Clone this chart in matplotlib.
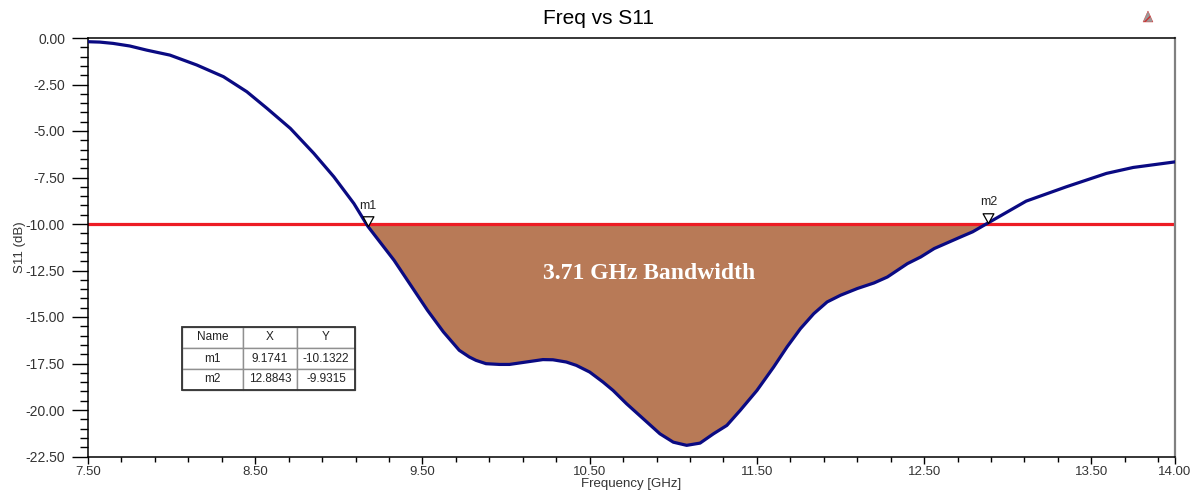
import matplotlib.pyplot as plt
from matplotlib.patches import Polygon, Rectangle
from matplotlib.path import Path
import numpy as np

# S11 trace
freq = [7.50, 7.57, 7.65, 7.75, 7.85, 7.99, 8.15, 8.31, 8.45, 8.57, 8.71, 8.85,
        8.97, 9.09, 9.1741, 9.33, 9.53, 9.625, 9.72, 9.78, 9.82, 9.88, 9.96,
        10.02, 10.12, 10.22, 10.28, 10.36, 10.42, 10.50, 10.58, 10.64, 10.72,
        10.82, 10.92, 11.00, 11.08, 11.16, 11.24, 11.32, 11.40, 11.50, 11.60,
        11.68, 11.76, 11.84, 11.92, 12.00, 12.10, 12.20, 12.28, 12.40, 12.48,
        12.56, 12.72, 12.79, 12.8843, 13.11, 13.35, 13.59, 13.75, 14.00]
s11 = [-0.20, -0.22, -0.29, -0.43, -0.65, -0.92, -1.45, -2.08, -2.89, -3.78,
       -4.86, -6.20, -7.46, -8.90, -10.1322, -11.95, -14.64, -15.80, -16.79,
       -17.15, -17.33, -17.51, -17.55, -17.55, -17.42, -17.29, -17.30, -17.42,
       -17.60, -17.96, -18.50, -18.95, -19.66, -20.47, -21.28, -21.73, -21.90,
       -21.78, -21.28, -20.83, -20.02, -18.95, -17.69, -16.61, -15.63, -14.82,
       -14.19, -13.83, -13.47, -13.17, -12.85, -12.13, -11.77, -11.32, -10.69,
       -10.42, -9.9315, -8.77, -8.00, -7.28, -6.96, -6.66]

marker_names = ["m1", "m2"]
marker_x = [9.1741, 12.8843]
marker_y = [-10.1322, -9.9315]

threshold = -10.0
bandwidth_label = "3.71 GHz Bandwidth"

x_ticks = [7.5, 8.5, 9.5, 10.5, 11.5, 12.5, 13.5, 14.0]
y_ticks = [0.0, -2.5, -5.0, -7.5, -10.0, -12.5, -15.0, -17.5, -20.0, -22.5]

plt.rcParams['font.family'] = ['Liberation Sans', 'DejaVu Sans']

fig = plt.figure(figsize=(11.97, 4.93), dpi=100)
ax = fig.add_axes([88 / 1197, 1 - 456.5 / 493, 1087 / 1197, 418.5 / 493])

f = np.array(freq)
s = np.array(s11)

# shaded band below -10 dB
ax.fill_between(f, s, threshold, where=s <= threshold, interpolate=True,
                color="#b87a57", linewidth=0, zorder=1)
ax.axhline(threshold, color="#ed1c24", linewidth=2.3, zorder=2)
ax.plot(f, s, color="#0a0a82", linewidth=2.3, zorder=3)

# marker triangles, tip on the point
tri = Path([(-1, 1.8), (1, 1.8), (0, 0), (-1, 1.8)],
           [Path.MOVETO, Path.LINETO, Path.LINETO, Path.CLOSEPOLY])
for name, mx, my in zip(marker_names, marker_x, marker_y):
    ax.plot(mx, my, marker=tri, markersize=14, markerfacecolor="white",
            markeredgecolor="black", markeredgewidth=0.9, linestyle="none", zorder=4)
    ax.annotate(name, (mx, my), xytext=(0, 15), textcoords="offset points",
                ha="center", va="center", fontsize=9, color="#222222")

ax.text(10.855, -12.66, bandwidth_label, ha="center", va="center", color="white",
        fontsize=17, fontweight="bold", family=["Liberation Serif", "DejaVu Serif"])

ax.set_xlim(7.5, 14.0)
ax.set_ylim(-22.5, 0.0)
ax.set_xticks(x_ticks)
ax.set_xticklabels(["%.2f" % v for v in x_ticks])
ax.set_xticks(np.arange(7.5, 14.0, 0.2), minor=True)
ax.set_yticks(y_ticks)
ax.set_yticklabels(["%.2f" % v for v in y_ticks])
ax.set_yticks(np.arange(-22.5, 0.01, 0.5), minor=True)

ax.tick_params(axis="y", which="major", direction="out", length=11.5, width=1,
               pad=5, labelsize=10, labelcolor="#333333")
ax.tick_params(axis="y", which="minor", direction="out", length=5.8, width=1)
ax.tick_params(axis="x", which="major", direction="out", length=5, width=1,
               pad=1.5, labelsize=9.5, labelcolor="#333333")
ax.tick_params(axis="x", which="minor", direction="out", length=3.5, width=1)

for side in ["left", "bottom", "top"]:
    ax.spines[side].set_color("black")
    ax.spines[side].set_linewidth(1.1)
ax.spines["right"].set_color("#808080")
ax.spines["right"].set_linewidth(1.6)

ax.set_xlabel("Frequency [GHz]", fontsize=9.5, color="#333333")
ax.xaxis.set_label_coords(0.5, -0.052)
ax.set_ylabel("S11 (dB)", fontsize=9.5, color="#333333")
ax.yaxis.set_label_coords(-0.057, 0.5)

fig.suptitle("Freq vs S11", x=0.5, y=1 - 18 / 493, va="center", fontsize=15)

# marker table
cells = [[n, "%.4f" % x, "%.4f" % y] for n, x, y in zip(marker_names, marker_x, marker_y)]
tbl_x0 = (182 - 88) / 1087
tbl_y0 = (456.5 - 390) / 418.5
tbl_w = (355 - 182) / 1087
tbl_h = (390 - 327) / 418.5
tbl = ax.table(cellText=cells, colLabels=["Name", "X", "Y"], cellLoc="center",
               colWidths=[61, 54, 58], bbox=[tbl_x0, tbl_y0, tbl_w, tbl_h], zorder=5)
tbl.auto_set_font_size(False)
tbl.set_fontsize(8.5)
for key, cell in tbl.get_celld().items():
    cell.set_edgecolor("#909090")
    cell.set_linewidth(1.0)
    cell.get_text().set_color("#222222")
ax.add_patch(Rectangle((tbl_x0, tbl_y0), tbl_w, tbl_h, transform=ax.transAxes,
                       fill=False, edgecolor="#333333", linewidth=1.3, zorder=6,
                       clip_on=False))

# small icon in the top right corner
icon = [(1143 / 1197, 1 - 22 / 493), (1153 / 1197, 1 - 22 / 493), (1148 / 1197, 1 - 11 / 493)]
fig.patches.append(Polygon(icon, closed=True, transform=fig.transFigure,
                           facecolor="#9a9a9a", edgecolor="#d03030", hatch="////",
                           linewidth=0.3))

fig.savefig("out.png", dpi=100)
